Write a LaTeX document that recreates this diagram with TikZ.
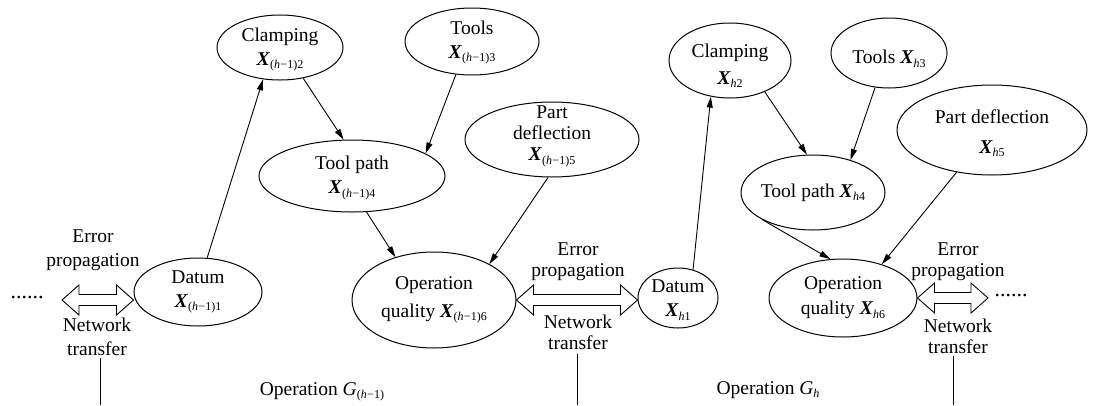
\documentclass[tikz,border=0pt]{standalone}
\usepackage{fontspec}
\setmainfont{Liberation Serif}
\usetikzlibrary{shapes.geometric,arrows.meta,calc}
\newcommand{\Xv}[1]{\textbf{\textit{X}}\raisebox{-3.5pt}{\fontsize{12}{12}\selectfont #1}}
\newcommand{\hmo}{(\textit{h}\kern0.3pt−\kern0.3pt1)}
\newcommand{\harrow}[2]{\path[harr] let \p1=(#1), \p2=(#2) in
  (\x1,\y1) -- (\x1+17pt,\y1+15pt) -- (\x1+17pt,\y1+5.5pt) -- (\x2-17pt,\y1+5.5pt) -- (\x2-17pt,\y1+15pt) -- (\x2,\y1)
  -- (\x2-17pt,\y1-15pt) -- (\x2-17pt,\y1-5.5pt) -- (\x1+17pt,\y1-5.5pt) -- (\x1+17pt,\y1-15pt) -- cycle;}
\begin{document}
\begin{tikzpicture}[x=1pt,y=-1pt,
  ell/.style={ellipse,draw,line width=1pt,inner sep=0pt},
  lbl/.style={font=\fontsize{19.5}{24}\selectfont,align=center,inner sep=0pt},
  lbls/.style={font=\fontsize{19.5}{21}\selectfont,align=center,inner sep=0pt},
  arr/.style={-{Triangle[length=11pt,width=6pt]},line width=0.9pt},
  harr/.style={draw,line width=0.9pt,fill=white},
  vline/.style={line width=0.9pt}]
\useasboundingbox (0,0) rectangle (1093,405);

% operation G_(h-1)
\node[ell,minimum width=126,minimum height=65,
  label={[lbl,yshift=-2pt]center:{Clamping\\\Xv{\hmo2}}}] (c2) at (280,47.5) {};
\node[ell,minimum width=134,minimum height=67,
  label={[lbl,yshift=-1pt]center:{Tools\\\Xv{\hmo3}}}] (t3) at (472,41.5) {};
\node[ell,minimum width=186,minimum height=72,
  label={[lbl,yshift=-2pt]center:{Tool path\\\Xv{\hmo4}}}] (tp4) at (352,176) {};
\node[ell,minimum width=174,minimum height=75,
  label={[lbls,yshift=3pt]center:{Part\\deflection\\\Xv{\hmo5}}}] (pd5) at (552,139.5) {};
\node[ell,minimum width=128,minimum height=68,
  label={[lbl]center:{Datum\\\Xv{\hmo1}}}] (d1) at (198,292) {};
\node[ell,minimum width=164,minimum height=96,
  label={[lbl,font=\fontsize{19.5}{28}\selectfont]center:{Operation\\quality \Xv{\hmo6}}}] (oq6) at (434,300) {};

% operation G_h
\node[ell,minimum width=80,minimum height=60,
  label={[lbl,yshift=-2pt]center:{Datum\\\Xv{\textit{h}1}}}] (dh1) at (678,298) {};
\node[ell,minimum width=122,minimum height=75,
  label={[lbl,font=\fontsize{19.5}{27}\selectfont,yshift=-5pt]center:{Clamping\\\Xv{\textit{h}2}}}] (ch2) at (730,60.5) {};
\node[ell,minimum width=116,minimum height=70,
  label={[lbl,yshift=-6pt]center:{Tools \Xv{\textit{h}3}}}] (th3) at (889,53) {};
\node[ell,minimum width=190,minimum height=90,
  label={[lbl,font=\fontsize{19.5}{30}\selectfont,yshift=-3pt]center:{Part deflection\\\Xv{\textit{h}5}}}] (pdh5) at (992,130) {};
\node[ell,minimum width=144,minimum height=75,
  label={[lbl]center:{Tool path \Xv{\textit{h}4}}}] (tph4) at (813,192.5) {};
\node[ell,minimum width=148,minimum height=78,
  label={[lbl,font=\fontsize{19.5}{25}\selectfont]center:{Operation\\quality \Xv{\textit{h}6}}}] (oqh6) at (843,298) {};

% influence arrows
\draw[arr] (d1.75.6) -- (c2.242.5);
\draw[arr] (c2.307.6) -- (tp4.103.7);
\draw[arr] (t3.244.5) -- (tp4.17.5);
\draw[arr] (tp4.292.1) -- (oq6.132.2);
\draw[arr] (pd5.264) -- (oq6.33.5);
\draw[arr] (dh1.62) -- (ch2.242.5);
\draw[arr] (ch2.318.7) -- (tph4.99);
\draw[arr] (th3.248.2) -- (tph4.41.3);
\draw[arr] (tph4.208.8) -- (oqh6.108.4);
\draw[arr] (pdh5.230.9) -- (oqh6.41.9);

% hollow double arrows
\coordinate (la) at (62,300);
\coordinate (ra) at (988,298);
\harrow{la}{d1.west}
\harrow{oq6.east}{dh1.west}
\harrow{oqh6.east}{ra}

% dots
\node[lbl,font=\fontsize{22}{22}\selectfont] (dl) at (27,298) {......};
\node[lbl,font=\fontsize{22}{22}\selectfont] (dr) at (1011,296) {......};

% transfer labels
\node[lbl] (ep1) at (93,250) {Error\\propagation};
\node[lbl] (nt1) at (97,337) {Network\\transfer};
\node[lbls] (ep2) at (578,262) {Error\\propagation};
\node[lbls] (nt2) at (578,332) {Network\\transfer};
\node[lbls] (ep3) at (958,262) {Error\\propagation};
\node[lbls] (nt3) at (958,336) {Network\\transfer};

% separators
\coordinate (b1) at (100,405);
\coordinate (b2) at (577,405);
\coordinate (b3) at (953,405);
\draw[vline] (b1 |- nt1.south) ++(0,2) -- (b1);
\draw[vline] (b2 |- nt2.south) ++(0,4) -- (b2);
\draw[vline] (b3 |- nt3.south) ++(0,2) -- (b3);

% operation labels
\node[lbl] (g1) at (322,392) {Operation \textit{G}\raisebox{-3.5pt}{\fontsize{12}{12}\selectfont\hmo}};
\node[lbl] (g2) at (768,390) {Operation \textit{G}\raisebox{-3.5pt}{\fontsize{12}{12}\selectfont\textit{h}}};
\end{tikzpicture}
\end{document}
